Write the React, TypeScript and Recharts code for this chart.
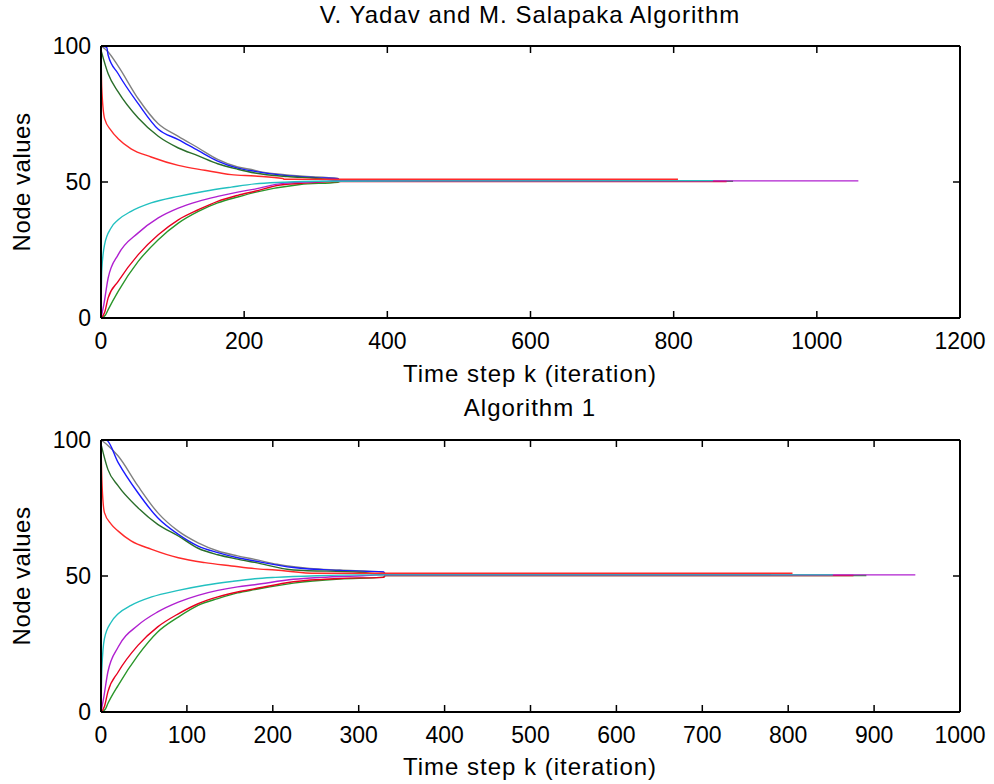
import React from 'react';
import { LineChart, Line, XAxis, YAxis } from 'recharts';

type Pt = [number, number];

// upper plot: V. Yadav and M. Salapaka algorithm
const yadavGray: Pt[] = [[0, 100], [10, 97.8], [24, 92.6], [52, 80.6], [80, 71.4], [108, 66.8], [136, 62.5], [163, 58.3], [191, 55.5], [215, 54.3], [222, 53.8], [250, 52.9], [278, 52.2], [331, 51.3], [333, 50.8], [650, 50.8]];
const yadavBlue: Pt[] = [[0, 100], [8, 99.5], [10, 96.6], [24, 89.8], [52, 78.8], [80, 69.4], [108, 65.6], [136, 61.5], [163, 57.7], [191, 55.1], [215, 53.9], [250, 52.6], [300, 51.6], [331, 51.2], [333, 50.7], [700, 50.7]];
const yadavGreenHi: Pt[] = [[0, 98.5], [10, 89.8], [24, 83.1], [52, 73.5], [80, 66.8], [108, 62.5], [136, 59.6], [163, 56.7], [191, 54.7], [215, 53.3], [260, 52], [300, 51.4], [333, 50.6], [750, 50.6]];
const yadavRedHi: Pt[] = [[0, 100], [1, 85], [5, 73.3], [14, 69], [24, 65.9], [42, 62.2], [70, 59.2], [108, 56.1], [145, 54.3], [182, 52.7], [215, 52.2], [254, 51.3], [256, 51], [806, 51]];
const yadavCyan: Pt[] = [[0, 0], [1, 17.3], [5, 27], [14, 33.1], [24, 36.1], [42, 39.2], [70, 42.3], [108, 44.7], [145, 46.6], [182, 48.1], [215, 49.3], [254, 49.9], [300, 50.3], [855, 50.5]];
const yadavPurple: Pt[] = [[0, 0], [4, 5], [10, 14.7], [24, 23.3], [52, 31.3], [80, 36.8], [108, 40.4], [136, 42.9], [163, 44.7], [191, 46.3], [215, 47.4], [254, 49.5], [300, 50.1], [331, 50.4], [1058, 50.4]];
const yadavRedLo: Pt[] = [[0, 0], [5, 2], [10, 7.4], [24, 13.5], [52, 23.3], [80, 30.6], [108, 36.1], [136, 39.8], [163, 42.9], [191, 45.1], [215, 46.6], [250, 48.9], [280, 49.5], [331, 50.2], [874, 50.2]];
const yadavGreenLo: Pt[] = [[0, 0], [6, 1], [10, 3.1], [24, 9.8], [52, 20.8], [80, 28.8], [108, 34.9], [136, 39.2], [163, 42.3], [191, 44.5], [215, 46.2], [278, 49.1], [331, 49.9], [335, 50.3], [883, 50.3]];

// lower plot: Algorithm 1
const alg1Gray: Pt[] = [[0, 100], [8, 98], [20, 94.1], [43, 83.1], [66, 73.3], [90, 66.5], [113, 62.2], [136, 59.2], [159, 57.4], [179, 56.1], [205, 54.3], [243, 52.8], [278, 52.2], [329, 51.4], [331, 50.8], [700, 50.8]];
const alg1Blue: Pt[] = [[0, 100], [6, 100], [20, 91.7], [43, 80.6], [66, 71.4], [90, 65.3], [113, 61], [136, 58.6], [159, 56.7], [179, 55.5], [224, 53.1], [278, 52], [329, 51.5], [331, 50.7], [750, 50.7]];
const alg1GreenHi: Pt[] = [[0, 98.5], [8, 89.2], [20, 83.1], [43, 75.1], [66, 69], [90, 64.7], [113, 60.2], [136, 57.8], [159, 56.2], [179, 55], [224, 52.2], [301, 51.4], [331, 50.6], [780, 50.6]];
const alg1RedHi: Pt[] = [[0, 100], [1, 85.5], [4, 73.3], [12, 69], [20, 66.5], [35, 62.9], [59, 59.8], [90, 56.7], [121, 54.9], [152, 53.7], [179, 52.7], [203, 52.2], [251, 51], [805, 51]];
const alg1Cyan: Pt[] = [[0, 0], [1, 16], [4, 27], [12, 33.1], [20, 36.1], [35, 39.2], [59, 42.3], [90, 44.7], [121, 46.6], [152, 48], [179, 49], [203, 49.5], [251, 50.1], [300, 50.4], [852, 50.4]];
const alg1Purple: Pt[] = [[0, 0], [3, 5], [8, 14.7], [20, 23.9], [43, 31.9], [66, 36.8], [90, 40.4], [113, 42.9], [136, 44.7], [159, 46], [179, 46.8], [224, 48.8], [255, 49.5], [305, 50.1], [331, 50.4], [948, 50.4]];
const alg1RedLo: Pt[] = [[0, 0], [4, 2], [8, 7.4], [20, 14.7], [43, 24.5], [66, 31.3], [90, 36.1], [113, 39.8], [136, 42.3], [159, 44.1], [179, 45.3], [224, 47.9], [278, 49.1], [329, 49.5], [331, 50.2], [876, 50.2]];
const alg1GreenLo: Pt[] = [[0, 0], [5, 1], [8, 3.1], [20, 9.8], [43, 20.8], [66, 29.4], [90, 34.9], [113, 39.2], [136, 41.7], [159, 43.8], [179, 45], [224, 47.4], [278, 48.9], [329, 49.6], [331, 50.2], [891, 50.2]];

const yTicks = [0, 50, 100];
const yadavXTicks = [0, 200, 400, 600, 800, 1000, 1200];
const alg1XTicks = [0, 100, 200, 300, 400, 500, 600, 700, 800, 900, 1000];

// node colours, same order in both plots
const GRAY = '#808080';
const BLUE = '#1a1aff';
const DKGREEN = '#2a6e2a';
const RED = '#ff2a2a';
const CYAN = '#22c0c0';
const PURPLE = '#b020d0';
const RED2 = '#e80020';
const GREEN = '#2a962a';

const FONT = "'Liberation Sans', Arial, Helvetica, sans-serif";
const TICK_LEN = 7;
const PLOT_H = 272;
const X_MARGIN = 15;

// matlab style: tick marks point into the box, on both bottom and top edge
const BottomTick = (p: any) => {
  const axisY = p.y - X_MARGIN;
  const topY = axisY - PLOT_H;
  return (
    <g>
      <line x1={p.x} x2={p.x} y1={axisY} y2={axisY - TICK_LEN} stroke="#000" strokeWidth={1.5} />
      <line x1={p.x} x2={p.x} y1={topY} y2={topY + TICK_LEN} stroke="#000" strokeWidth={1.5} />
      <text x={p.x} y={p.y} dy="0.71em" textAnchor="middle" fontSize={23} fontFamily={FONT} fill="#000">
        {p.payload.value}
      </text>
    </g>
  );
};

const LeftTick = (p: any) => (
  <g>
    <line x1={p.x + 10} x2={p.x + 10 + TICK_LEN} y1={p.y} y2={p.y} stroke="#000" strokeWidth={1.5} />
    <text x={p.x} y={p.y} dy="0.36em" textAnchor="end" fontSize={23} fontFamily={FONT} fill="#000">
      {p.payload.value}
    </text>
  </g>
);

const RightTick = (p: any) => (
  <line x1={p.x} x2={p.x - TICK_LEN} y1={p.y} y2={p.y} stroke="#000" strokeWidth={1.5} />
);

interface Series {
  pts: Pt[];
  color: string;
}

interface PanelProps {
  series: Series[];
  xMax: number;
  xTicks: number[];
  top: number;
  plotTop: number;
}

const Panel: React.FC<PanelProps> = ({ series, xMax, xTicks, top, plotTop }) => {
  // axes get 1px of size so they still render; margins take that into account
  return (
    <div style={{ position: 'absolute', left: 0, top }}>
      <LineChart
        width={994}
        height={392}
        margin={{ top: plotTop - 1, right: 33, bottom: 392 - plotTop - PLOT_H - 1, left: 100 }}
      >
        <XAxis
          type="number"
          dataKey="k"
          domain={[0, xMax]}
          ticks={xTicks}
          interval={0}
          height={1}
          tickSize={0}
          tickMargin={X_MARGIN}
          tickLine={false}
          tick={BottomTick}
          stroke="#000"
          strokeWidth={2}
          allowDataOverflow
        />
        <XAxis
          xAxisId="top"
          orientation="top"
          type="number"
          domain={[0, xMax]}
          height={1}
          tickLine={false}
          tick={false}
          stroke="#000"
          strokeWidth={2}
          allowDataOverflow
        />
        <YAxis
          type="number"
          domain={[0, 100]}
          ticks={yTicks}
          interval={0}
          width={1}
          tickSize={0}
          tickMargin={10}
          tickLine={false}
          tick={LeftTick}
          stroke="#000"
          strokeWidth={2}
          allowDataOverflow
        />
        <YAxis
          yAxisId="right"
          orientation="right"
          type="number"
          domain={[0, 100]}
          ticks={yTicks}
          interval={0}
          width={1}
          tickSize={0}
          tickMargin={0}
          tickLine={false}
          tick={RightTick}
          stroke="#000"
          strokeWidth={2}
          allowDataOverflow
        />
        {series.map((s, i) => (
          <Line
            key={i}
            data={s.pts.map(([k, v]) => ({ k, v }))}
            dataKey="v"
            type="monotoneX"
            stroke={s.color}
            strokeWidth={1.4}
            dot={false}
            isAnimationActive={false}
          />
        ))}
      </LineChart>
    </div>
  );
};

const App: React.FC = () => {
  const yadav: Series[] = [
    { pts: yadavGray, color: GRAY },
    { pts: yadavBlue, color: BLUE },
    { pts: yadavGreenHi, color: DKGREEN },
    { pts: yadavGreenLo, color: GREEN },
    { pts: yadavRedLo, color: RED2 },
    { pts: yadavPurple, color: PURPLE },
    { pts: yadavCyan, color: CYAN },
    { pts: yadavRedHi, color: RED },
  ];
  const alg1: Series[] = [
    { pts: alg1Gray, color: GRAY },
    { pts: alg1Blue, color: BLUE },
    { pts: alg1GreenHi, color: DKGREEN },
    { pts: alg1GreenLo, color: GREEN },
    { pts: alg1RedLo, color: RED2 },
    { pts: alg1Purple, color: PURPLE },
    { pts: alg1Cyan, color: CYAN },
    { pts: alg1RedHi, color: RED },
  ];
  const textStyle = { fontFamily: FONT, fill: '#000', fontSize: 24, letterSpacing: 1 };
  return (
    <div style={{ position: 'absolute', left: 0, top: 0, width: 994, height: 784, background: '#fff', overflow: 'hidden' }}>
      <Panel series={yadav} xMax={1200} xTicks={yadavXTicks} top={0} plotTop={46} />
      <Panel series={alg1} xMax={1000} xTicks={alg1XTicks} top={392} plotTop={48} />
      <svg width={994} height={784} style={{ position: 'absolute', left: 0, top: 0, pointerEvents: 'none' }}>
        <text x={530} y={23} textAnchor="middle" {...textStyle}>V. Yadav and M. Salapaka Algorithm</text>
        <text x={530} y={382} textAnchor="middle" {...textStyle}>Time step k (iteration)</text>
        <text x={30} y={182} textAnchor="middle" transform="rotate(-90 30 182)" {...textStyle} letterSpacing={0.5}>Node values</text>
        <text x={530} y={416} textAnchor="middle" {...textStyle}>Algorithm 1</text>
        <text x={530} y={775} textAnchor="middle" {...textStyle}>Time step k (iteration)</text>
        <text x={30} y={576} textAnchor="middle" transform="rotate(-90 30 576)" {...textStyle} letterSpacing={0.5}>Node values</text>
      </svg>
    </div>
  );
};

export default App;
